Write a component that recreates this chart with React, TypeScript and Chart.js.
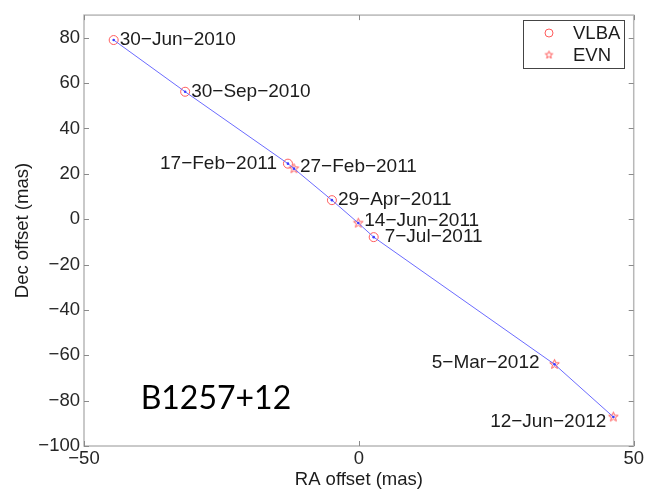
import React, { useEffect, useRef } from 'react';
import { Chart, registerables } from 'chart.js';

Chart.register(...registerables);

// Observation epochs of B1257+12 and their positional offsets (mas)
const epochLabels = [
  '30-Jun-2010',
  '30-Sep-2010',
  '17-Feb-2011',
  '27-Feb-2011',
  '29-Apr-2011',
  '14-Jun-2011',
  '7-Jul-2011',
  '5-Mar-2012',
  '12-Jun-2012',
];
const arrayNames = ['VLBA', 'VLBA', 'VLBA', 'EVN', 'VLBA', 'EVN', 'VLBA', 'EVN', 'EVN'];
const raOffset = [-44.6, -31.6, -12.9, -11.8, -4.9, -0.1, 2.7, 35.6, 46.3];
const decOffset = [79.0, 56.2, 24.5, 22.3, 8.4, -1.7, -7.9, -64.0, -87.2];

// Axis ticks
const xTickValues = [-50, 0, 50];
const yTickValues = [-100, -80, -60, -40, -20, 0, 20, 40, 60, 80];
const xRange = [-50, 50];
const yRange = [-100, 90];

const xTitle = 'RA offset (mas)';
const yTitle = 'Dec offset (mas)';
const sourceName = 'B1257+12';

// Label placement around each marker: which side, and pixel nudge
const labelSide = ['right', 'right', 'left', 'right', 'right', 'right', 'right', 'left', 'left'];
const labelNudge = [
  { dx: 6, dy: 0 },
  { dx: 6, dy: 0 },
  { dx: -11, dy: 0 },
  { dx: 6, dy: -2 },
  { dx: 6, dy: 0 },
  { dx: 6, dy: -2 },
  { dx: 11, dy: 0 },
  { dx: -15, dy: -2 },
  { dx: -7, dy: 5 },
];
const sourceNameAt = { x: -26, y: -79.3 };

const RED = '#ff5c5c';
const BLUE = '#6b6bff';
const TEXT = '#1c1c1c';
const FRAME = '#b8b8b8';
const SANS = '"Liberation Sans", Arial, Helvetica, sans-serif';

// Dashes drawn as typographic minus signs
const dash = (s: string) => s.replace(/-/g, '\u2212');

function makePentagram(r: number, color: string): HTMLCanvasElement {
  const size = Math.ceil(r * 2 + 3);
  const c = document.createElement('canvas');
  c.width = size;
  c.height = size;
  const g = c.getContext('2d')!;
  const cx = size / 2;
  const cy = size / 2;
  const inner = r * 0.42;
  g.beginPath();
  for (let i = 0; i < 10; i++) {
    const rad = i % 2 === 0 ? r : inner;
    const a = -Math.PI / 2 + (i * Math.PI) / 5;
    const px = cx + rad * Math.cos(a);
    const py = cy + rad * Math.sin(a);
    if (i === 0) g.moveTo(px, py);
    else g.lineTo(px, py);
  }
  g.closePath();
  g.strokeStyle = color;
  g.lineWidth = 1;
  g.stroke();
  return c;
}

export default function App() {
  const canvasRef = useRef<HTMLCanvasElement | null>(null);

  useEffect(() => {
    if (!canvasRef.current) return;

    const star = makePentagram(5, RED);
    const legendStar = makePentagram(4, RED);

    const points = raOffset.map((x, i) => ({ x, y: decOffset[i] }));
    const vlba = points.filter((_, i) => arrayNames[i] === 'VLBA');
    const evn = points.filter((_, i) => arrayNames[i] === 'EVN');

    const overlay = {
      id: 'overlay',
      afterDatasetsDraw(chart: any) {
        const { ctx, chartArea: a, scales } = chart;
        const xs = scales.x;
        const ys = scales.y;
        ctx.save();

        // frame
        ctx.strokeStyle = FRAME;
        ctx.lineWidth = 1.5;
        ctx.strokeRect(a.left, a.top, a.right - a.left, a.bottom - a.top);

        // inward ticks on all four sides
        ctx.lineWidth = 1;
        ctx.strokeStyle = '#8a8a8a';
        const tl = 5;
        ctx.beginPath();
        yTickValues.forEach((v) => {
          const py = Math.round(ys.getPixelForValue(v)) + 0.5;
          ctx.moveTo(a.left, py);
          ctx.lineTo(a.left + tl, py);
          ctx.moveTo(a.right, py);
          ctx.lineTo(a.right - tl, py);
        });
        xTickValues.forEach((v) => {
          const px = Math.round(xs.getPixelForValue(v)) + 0.5;
          ctx.moveTo(px, a.bottom);
          ctx.lineTo(px, a.bottom - tl);
          ctx.moveTo(px, a.top);
          ctx.lineTo(px, a.top + tl);
        });
        ctx.stroke();

        // epoch labels
        ctx.fillStyle = TEXT;
        ctx.font = `19px ${SANS}`;
        ctx.textBaseline = 'middle';
        epochLabels.forEach((lab, i) => {
          const px = xs.getPixelForValue(raOffset[i]) + labelNudge[i].dx;
          const py = ys.getPixelForValue(decOffset[i]) + labelNudge[i].dy;
          ctx.textAlign = labelSide[i] === 'right' ? 'left' : 'right';
          ctx.fillText(dash(lab), px, py);
        });

        // source name
        ctx.font = `32px Lato, "Open Sans", sans-serif`;
        ctx.textAlign = 'center';
        ctx.fillStyle = '#000';
        ctx.fillText(sourceName, xs.getPixelForValue(sourceNameAt.x), ys.getPixelForValue(sourceNameAt.y));

        // axis titles
        ctx.font = `18.5px ${SANS}`;
        ctx.fillStyle = TEXT;
        ctx.textAlign = 'center';
        ctx.fillText(xTitle, (a.left + a.right) / 2, 480);
        ctx.save();
        ctx.translate(22.5, (a.top + a.bottom) / 2);
        ctx.rotate(-Math.PI / 2);
        ctx.fillText(yTitle, 0, 0);
        ctx.restore();

        // legend
        const lx = 523;
        const ly = 20;
        const lw = 101;
        const lh = 48;
        ctx.fillStyle = '#fff';
        ctx.fillRect(lx, ly, lw, lh);
        ctx.strokeStyle = '#444';
        ctx.lineWidth = 1;
        ctx.strokeRect(lx + 0.5, ly + 0.5, lw, lh);
        ctx.strokeStyle = RED;
        ctx.beginPath();
        ctx.arc(549, 33, 4, 0, Math.PI * 2);
        ctx.stroke();
        ctx.drawImage(legendStar, 549 - legendStar.width / 2, 55 - legendStar.height / 2);
        ctx.fillStyle = TEXT;
        ctx.textAlign = 'left';
        ctx.font = `18.5px ${SANS}`;
        ctx.fillText('VLBA', 573, 34);
        ctx.fillText('EVN', 573, 56);

        ctx.restore();
      },
    };

    const chart = new Chart(canvasRef.current, {
      type: 'scatter',
      data: {
        datasets: [
          {
            label: 'track',
            data: points,
            showLine: true,
            borderColor: BLUE,
            borderWidth: 1,
            pointRadius: 1.3,
            pointBackgroundColor: '#3b3bff',
            pointBorderWidth: 0,
          },
          {
            label: 'VLBA',
            data: vlba,
            pointStyle: 'circle',
            pointRadius: 4.5,
            borderColor: RED,
            borderWidth: 1,
            backgroundColor: 'rgba(0,0,0,0)',
          },
          {
            label: 'EVN',
            data: evn,
            pointStyle: star,
            pointRadius: 5,
            borderColor: RED,
            backgroundColor: 'rgba(0,0,0,0)',
          },
        ],
      },
      options: {
        animation: false,
        responsive: false,
        events: [],
        layout: { padding: { top: 11, right: 10, left: 0, bottom: 0 } },
        plugins: {
          legend: { display: false },
          tooltip: { enabled: false },
        },
        scales: {
          x: {
            type: 'linear',
            min: xRange[0],
            max: xRange[1],
            grid: { display: false, drawTicks: false },
            border: { display: false },
            afterBuildTicks: (s: any) => {
              s.ticks = xTickValues.map((v) => ({ value: v }));
            },
            afterFit: (s: any) => {
              s.height = 43;
            },
            ticks: {
              padding: 2,
              maxRotation: 0,
              autoSkip: false,
              color: '#262626',
              font: { family: SANS, size: 18.5 },
              callback: (v: any) => dash(String(v)),
            },
          },
          y: {
            type: 'linear',
            min: yRange[0],
            max: yRange[1],
            grid: { display: false, drawTicks: false },
            border: { display: false },
            afterBuildTicks: (s: any) => {
              s.ticks = yTickValues.map((v) => ({ value: v }));
            },
            afterFit: (s: any) => {
              s.width = 84;
            },
            ticks: {
              padding: 4,
              autoSkip: false,
              color: '#262626',
              font: { family: SANS, size: 18.5 },
              callback: (v: any) => dash(String(v)),
            },
          },
        },
      },
      plugins: [overlay],
    });

    return () => chart.destroy();
  }, []);

  return (
    <div style={{ position: 'absolute', left: 0, top: 0, width: 646, height: 489, background: '#fff' }}>
      <canvas ref={canvasRef} width={646} height={489} />
    </div>
  );
}
